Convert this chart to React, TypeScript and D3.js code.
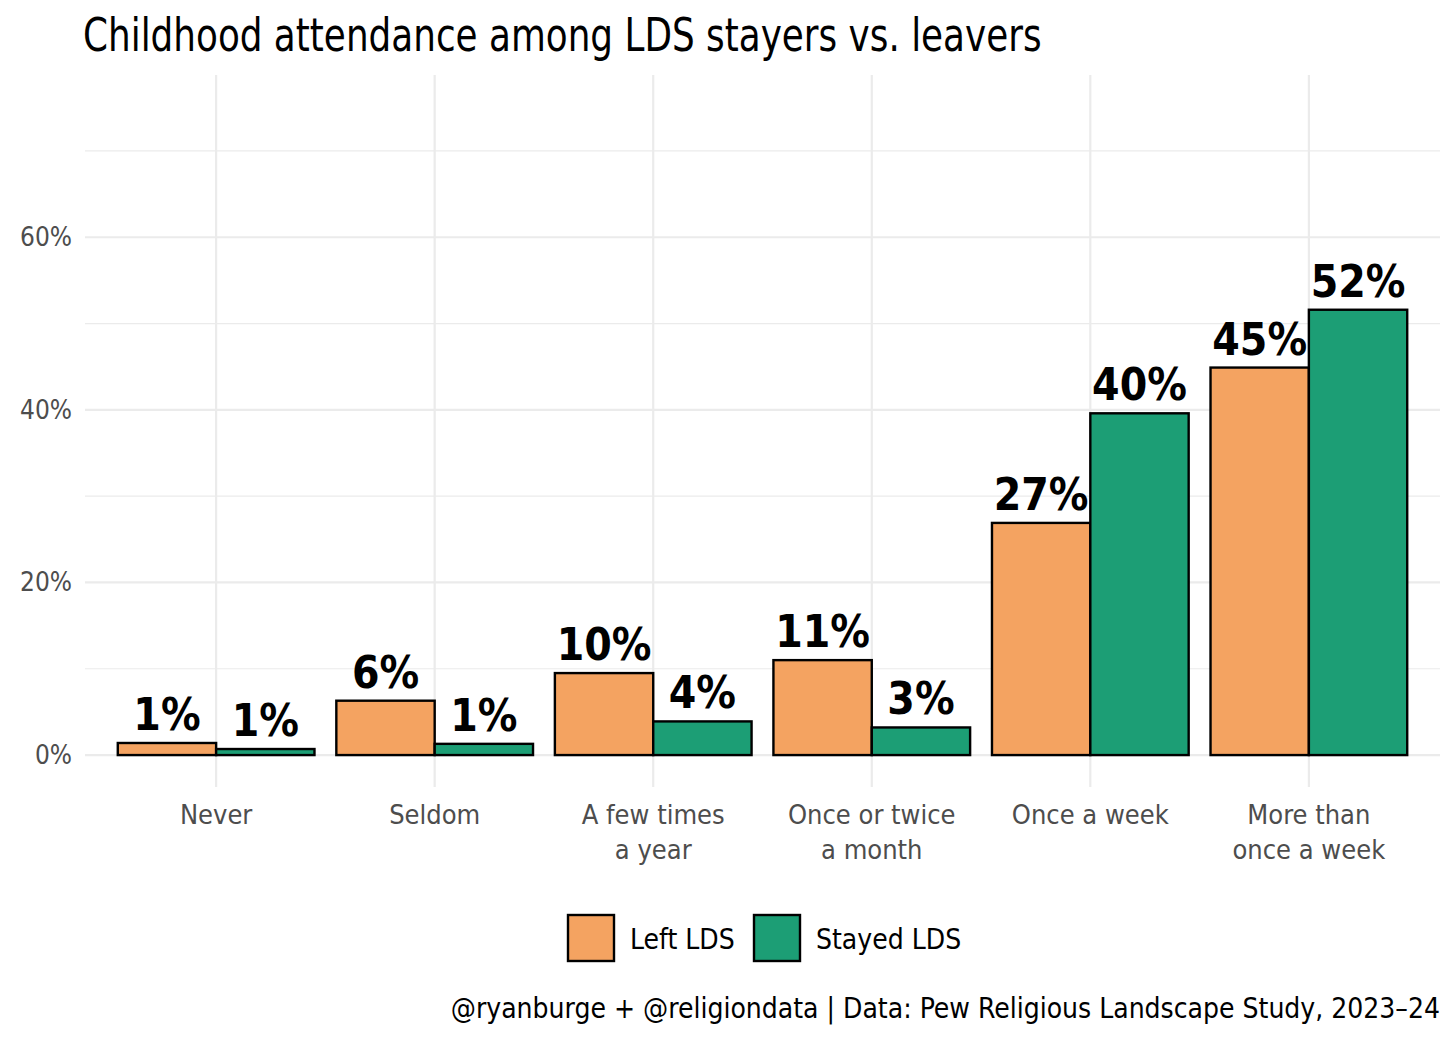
import React, { useEffect, useRef, ReactElement } from 'react'
import * as d3 from 'd3'

const categories = ['Never', 'Seldom', 'A few times\na year', 'Once or twice\na month', 'Once a week', 'More than\nonce a week']
const seriesNames = ['Left LDS', 'Stayed LDS']
const leftValues = [1.4, 6.3, 9.5, 11.0, 26.9, 44.9]
const stayedValues = [0.7, 1.3, 3.9, 3.2, 39.6, 51.6]
const yTicks = [0, 20, 40, 60]
const yMinor = [10, 30, 50, 70]
const colors = ['#F4A361', '#1C9E75']

const FONT = '"Liberation Sans Narrow", "DejaVu Sans Condensed", "Roboto", sans-serif'

const App = (): ReactElement => {
  const ref = useRef<SVGSVGElement>(null)

  const drawChart = () => {
    document.body.style.margin = '0'
    const width = 1456
    const height = 1040
    const svg = d3.select(ref.current)
    svg.selectAll('*').remove()
    svg.attr('width', width).attr('height', height).style('font-family', FONT)

    const panel = { left: 85, right: 1440, top: 75, bottom: 787 }

    // discrete x with ggplot-like 0.6 expansion
    const x = d3.scaleLinear()
      .domain([0.4, categories.length + 0.6])
      .range([panel.left, panel.right])
    const step = x(2) - x(1)
    const groupW = step * 0.9
    const sub = d3.scaleBand<number>()
      .domain([0, 1])
      .range([-groupW / 2, groupW / 2])
      .padding(0)

    const y = d3.scaleLinear()
      .domain([-3.7, 78.8])
      .range([panel.bottom, panel.top])

    // grid
    const g = svg.append('g')
    g.selectAll('line.minor')
      .data(yMinor)
      .join('line')
      .attr('x1', panel.left).attr('x2', panel.right)
      .attr('y1', d => y(d)).attr('y2', d => y(d))
      .attr('stroke', '#ebebeb').attr('stroke-width', 1.2)
    g.selectAll('line.major')
      .data(yTicks)
      .join('line')
      .attr('x1', panel.left).attr('x2', panel.right)
      .attr('y1', d => y(d)).attr('y2', d => y(d))
      .attr('stroke', '#ebebeb').attr('stroke-width', 2.2)
    g.selectAll('line.vx')
      .data(categories)
      .join('line')
      .attr('x1', (d, i) => x(i + 1)).attr('x2', (d, i) => x(i + 1))
      .attr('y1', panel.top).attr('y2', panel.bottom)
      .attr('stroke', '#ebebeb').attr('stroke-width', 2.2)

    // y labels
    svg.append('g').selectAll('text')
      .data(yTicks)
      .join('text')
      .attr('x', 72)
      .attr('y', d => y(d) + 9)
      .attr('text-anchor', 'end')
      .style('font-size', '26px')
      .style('fill', '#4d4d4d')
      .text(d => d + '%')

    // x labels
    const xl = svg.append('g').selectAll('text')
      .data(categories)
      .join('text')
      .attr('text-anchor', 'middle')
      .style('font-size', '27px')
      .style('fill', '#4d4d4d')
    xl.each(function (d, i) {
      const t = d3.select(this)
      d.split('\n').forEach((line, j) => {
        t.append('tspan')
          .attr('x', x(i + 1))
          .attr('y', 824 + j * 35)
          .text(line)
      })
    })

    // bars
    const series = [leftValues, stayedValues]
    series.forEach((vals, s) => {
      const bg = svg.append('g')
      bg.selectAll('rect')
        .data(vals)
        .join('rect')
        .attr('x', (d, i) => x(i + 1) + (sub(s) ?? 0))
        .attr('width', sub.bandwidth())
        .attr('y', d => y(d))
        .attr('height', d => y(0) - y(d))
        .attr('fill', colors[s])
        .attr('stroke', '#000')
        .attr('stroke-width', 2.4)
      bg.selectAll('text')
        .data(vals)
        .join('text')
        .attr('x', (d, i) => x(i + 1) + (sub(s) ?? 0) + sub.bandwidth() / 2)
        .attr('y', d => y(d) - 13)
        .attr('text-anchor', 'middle')
        .style('font-size', '44px')
        .style('font-weight', 'bold')
        .style('fill', '#000')
        .text(d => Math.round(d) + '%')
    })

    // title (squeezed horizontally to mimic the condensed face)
    svg.append('text')
      .attr('transform', 'translate(83,51) scale(0.865,1)')
      .style('font-size', '46px')
      .style('fill', '#000')
      .text('Childhood attendance among LDS stayers vs. leavers')

    // legend
    const lg = svg.append('g')
    const legendX = [568, 754]
    seriesNames.forEach((name, i) => {
      lg.append('rect')
        .attr('x', legendX[i]).attr('y', 915)
        .attr('width', 46).attr('height', 46)
        .attr('fill', colors[i])
        .attr('stroke', '#000').attr('stroke-width', 2.4)
      lg.append('text')
        .attr('x', legendX[i] + 62).attr('y', 949)
        .style('font-size', '28px')
        .style('fill', '#000')
        .text(name)
    })

    // caption
    svg.append('text')
      .attr('x', 1440)
      .attr('y', 1018)
      .attr('text-anchor', 'end')
      .style('font-size', '28px')
      .style('fill', '#000')
      .text('@ryanburge + @religiondata | Data: Pew Religious Landscape Study, 2023\u201324')
  }

  useEffect(drawChart, [])

  return (
    <div>
      <svg ref={ref} style={{ display: 'block' }}></svg>
    </div>
  )
}

export default App
